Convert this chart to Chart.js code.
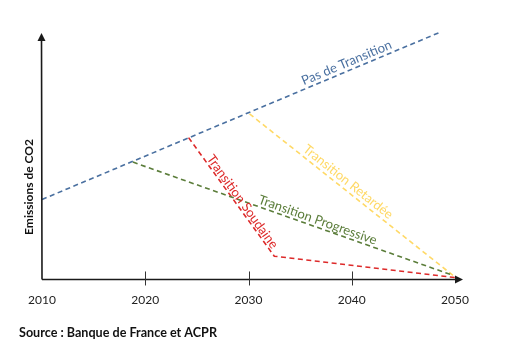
<!DOCTYPE html>
<html>
<head>
<meta charset="utf-8">
<script src="https://cdn.jsdelivr.net/npm/chart.js@4/dist/chart.umd.min.js"></script>
<style>
  html, body { margin: 0; padding: 0; background: #ffffff; }
  #wrap { width: 505px; height: 362px; position: relative; }
</style>
</head>
<body>
<div id="wrap"><canvas id="c" width="505" height="362"></canvas></div>
<script>
// ---- Data (x = year, y = relative CO2 emissions, arbitrary units) ----
const tickYears = [2010, 2020, 2030, 2040, 2050];
const tickLabels = ['2010', '2020', '2030', '2040', '2050'];

const seriesNames = ['Pas de Transition', 'Transition Progressive', 'Transition Soudaine', 'Transition Retardée'];

const pasDeTransitionYears = [2010, 2048.4];
const pasDeTransitionValues = [33, 101.7];

const progressiveYears = [2018.8, 2049.8];
const progressiveValues = [48.4, 1.7];

const soudaineYears = [2024.2, 2032.5, 2050];
const soudaineValues = [58.5, 9.6, 0.8];

const retardeeYears = [2030.1, 2049.8];
const retardeeValues = [68.3, 1.7];

const yAxisTitle = 'Emissions de CO2';
const sourceText = 'Source : Banque de France et ACPR';

// ---- Styles ----
const colors = ['#4a70a0', '#5b7d3a', '#dd2a2a', '#ffd966'];
const FONT = 'Lato, "Open Sans", "DejaVu Sans", sans-serif';

function pts(xs, ys) { return xs.map((x, i) => ({ x: x, y: ys[i] })); }

const datasets = [
  { label: seriesNames[0], data: pts(pasDeTransitionYears, pasDeTransitionValues) },
  { label: seriesNames[1], data: pts(progressiveYears, progressiveValues) },
  { label: seriesNames[2], data: pts(soudaineYears, soudaineValues) },
  { label: seriesNames[3], data: pts(retardeeYears, retardeeValues) }
].map((d, i) => Object.assign(d, {
  borderColor: colors[i],
  backgroundColor: colors[i],
  borderWidth: 1.6,
  borderDash: [5, 3.5],
  pointRadius: 0,
  fill: false,
  tension: 0,
  clip: false
}));

// label placement: segment index, fraction along segment, perpendicular offset (px, negative = above)
const labelPlacement = [
  { seg: 0, t: 0.776, off: -8 },
  { seg: 0, t: 0.57, off: -7 },
  { seg: 0, t: 0.57, off: -6 },
  { seg: 0, t: 0.46, off: -8 }
];

const decorPlugin = {
  id: 'decor',
  afterDatasetsDraw(chart) {
    const ctx = chart.ctx;
    const xs = chart.scales.x, ys = chart.scales.y;
    const area = chart.chartArea;
    ctx.save();
    // axes
    ctx.strokeStyle = '#1a1a1a';
    ctx.fillStyle = '#1a1a1a';
    ctx.lineWidth = 1.6;
    const x0 = area.left, y0 = area.bottom;
    ctx.beginPath();
    ctx.moveTo(x0, y0);
    ctx.lineTo(area.right + 2, y0);
    ctx.moveTo(x0, y0);
    ctx.lineTo(x0 - 0.5, area.top + 2);
    ctx.stroke();
    // arrow heads
    ctx.beginPath();
    ctx.moveTo(area.right + 8, y0);
    ctx.lineTo(area.right, y0 - 4);
    ctx.lineTo(area.right, y0 + 4);
    ctx.closePath();
    ctx.fill();
    ctx.beginPath();
    ctx.moveTo(x0 - 0.5, area.top - 4);
    ctx.lineTo(x0 - 4.5, area.top + 4);
    ctx.lineTo(x0 + 3.5, area.top + 4);
    ctx.closePath();
    ctx.fill();
    // tick marks crossing the axis (inner ticks only)
    ctx.lineWidth = 1;
    ctx.strokeStyle = '#333';
    tickYears.slice(1, -1).forEach(v => {
      const px = Math.round(xs.getPixelForValue(v)) + 0.5;
      ctx.beginPath();
      ctx.moveTo(px, y0 - 8);
      ctx.lineTo(px, y0 + 6);
      ctx.stroke();
    });
    // y axis title
    ctx.save();
    ctx.translate(29, 187);
    ctx.rotate(-Math.PI / 2);
    ctx.font = 'bold 12px ' + FONT;
    ctx.fillStyle = '#111';
    ctx.textAlign = 'center';
    ctx.textBaseline = 'middle';
    ctx.fillText(yAxisTitle, 0, 0);
    ctx.restore();
    // series labels along their lines
    chart.data.datasets.forEach((ds, i) => {
      const p = labelPlacement[i];
      const a = ds.data[p.seg], b = ds.data[p.seg + 1];
      const ax = xs.getPixelForValue(a.x), ay = ys.getPixelForValue(a.y);
      const bx = xs.getPixelForValue(b.x), by = ys.getPixelForValue(b.y);
      const ang = Math.atan2(by - ay, bx - ax);
      const cx = ax + (bx - ax) * p.t, cy = ay + (by - ay) * p.t;
      ctx.save();
      ctx.translate(cx, cy);
      ctx.rotate(ang);
      ctx.font = '13px ' + FONT;
      ctx.fillStyle = ds.borderColor;
      ctx.textAlign = 'center';
      ctx.textBaseline = 'middle';
      ctx.fillText(ds.label, 0, p.off);
      ctx.restore();
    });
    ctx.restore();
  }
};

new Chart(document.getElementById('c'), {
  type: 'line',
  data: { datasets: datasets },
  options: {
    responsive: false,
    animation: false,
    layout: { padding: { left: 19, right: 50, top: 37, bottom: 22 } },
    plugins: {
      legend: { display: false },
      tooltip: { enabled: false },
      title: {
        display: true,
        text: sourceText,
        position: 'bottom',
        align: 'start',
        color: '#111',
        font: { family: FONT, size: 12.6, weight: 'bold' },
        padding: { top: 13, bottom: 0 }
      }
    },
    scales: {
      x: {
        type: 'linear',
        min: 2010,
        max: 2050,
        afterBuildTicks: s => { s.ticks = tickYears.map(v => ({ value: v })); },
        grid: { display: false },
        border: { display: false },
        ticks: {
          padding: 5,
          color: '#222',
          font: { family: FONT, size: 12 },
          maxRotation: 0,
          callback: (v) => { const i = tickYears.indexOf(v); return i >= 0 ? tickLabels[i] : ''; }
        }
      },
      y: {
        display: true,
        min: 0,
        max: 100,
        grid: { display: false },
        border: { display: false },
        ticks: { display: false },
        afterFit: s => { s.width = 23; }
      }
    }
  },
  plugins: [decorPlugin]
});
</script>
</body>
</html>
